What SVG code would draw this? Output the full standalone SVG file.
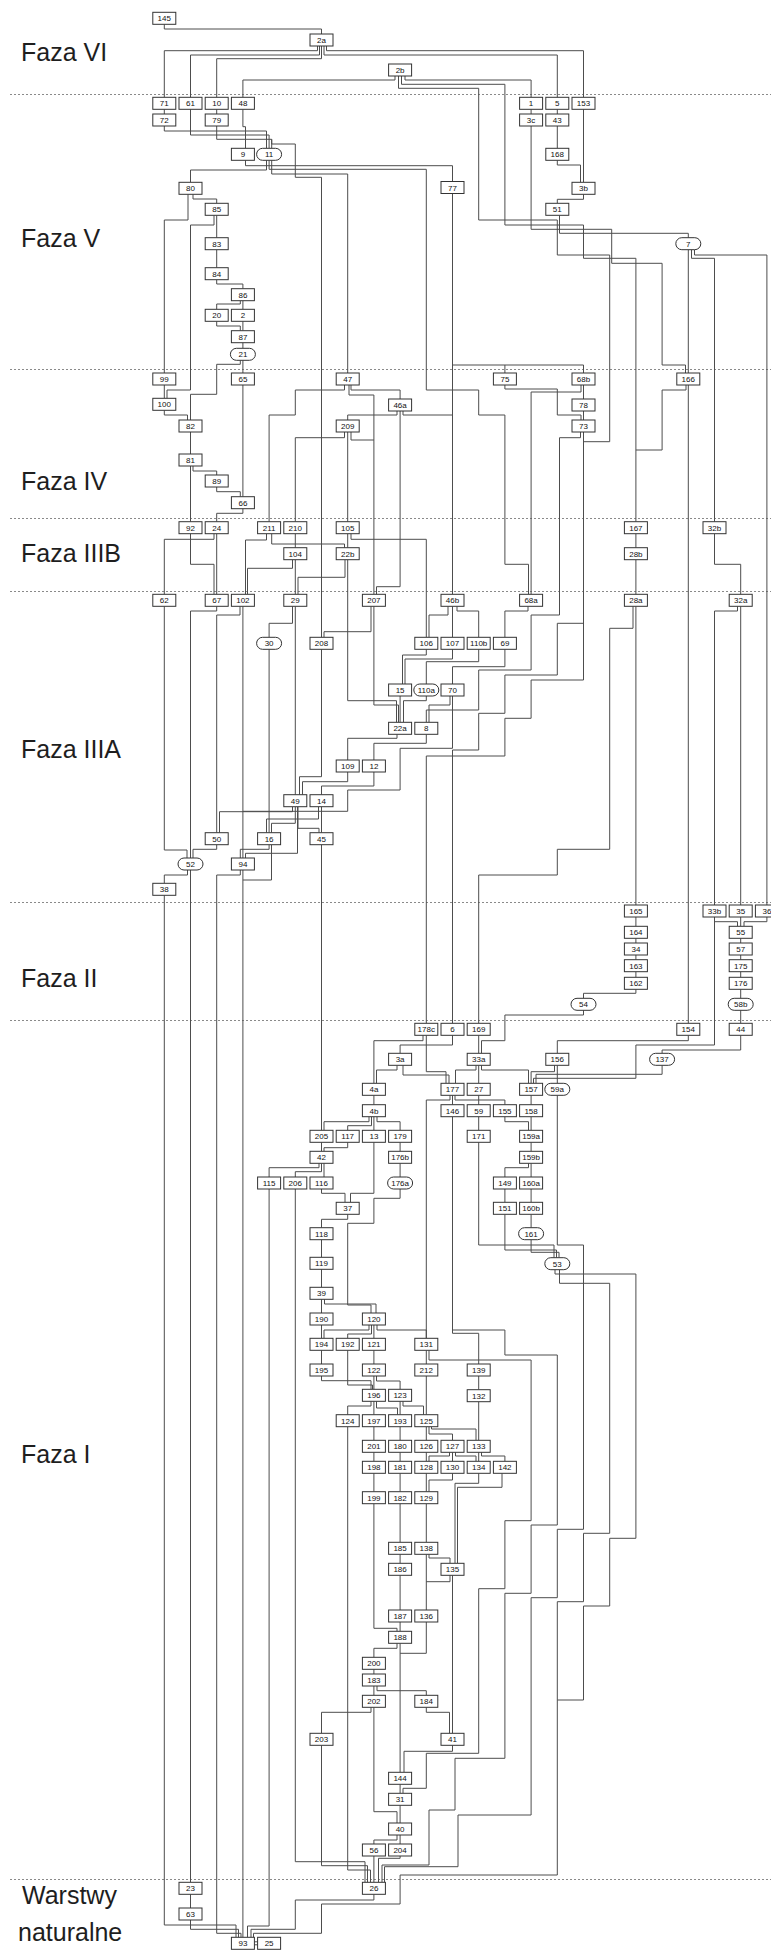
<svg xmlns="http://www.w3.org/2000/svg" width="771" height="1950" viewBox="0 0 771 1950">
<style>
.c path{fill:none;stroke:#4d4d4d;stroke-width:1}
.n rect{fill:#fff;stroke:#333;stroke-width:1}
.n text{font-family:"Liberation Sans",Arial,sans-serif;font-size:8px;fill:#111;text-anchor:middle}
.d line{stroke:#8a8a8a;stroke-width:1;stroke-dasharray:2 2}
.ph{font-family:"Liberation Sans",Arial,sans-serif;font-size:25px;fill:#1e1e1e}
</style>
<rect width="771" height="1950" fill="#fff"/>
<g id="phases" class="d">
<line x1="10" y1="94.5" x2="771" y2="94.5"/>
<line x1="10" y1="369.5" x2="771" y2="369.5"/>
<line x1="10" y1="518.5" x2="771" y2="518.5"/>
<line x1="10" y1="591.5" x2="771" y2="591.5"/>
<line x1="10" y1="902.5" x2="771" y2="902.5"/>
<line x1="10" y1="1020.5" x2="771" y2="1020.5"/>
<line x1="10" y1="1879.5" x2="771" y2="1879.5"/>
</g>
<g id="phase-labels">
<text class="ph" x="21" y="61">Faza VI</text>
<text class="ph" x="21" y="247">Faza V</text>
<text class="ph" x="21" y="490">Faza IV</text>
<text class="ph" x="21" y="562">Faza IIIB</text>
<text class="ph" x="21" y="758">Faza IIIA</text>
<text class="ph" x="21" y="987">Faza II</text>
<text class="ph" x="21" y="1463">Faza I</text>
<text class="ph" x="22" y="1904">Warstwy</text>
<text class="ph" x="18" y="1941">naturalne</text>
</g>
<g id="connectors" class="c">
<path d="M164.3,24.3V29H321.5V34"/>
<path d="M317.5,46V50.7H164.3V97.3"/>
<path d="M319.5,46V55H190.5V97.3"/>
<path d="M321.5,46V58.7H216.7V97.3"/>
<path d="M324,46V55H557.3V97.3"/>
<path d="M326.5,46V50.7H583.5V97.3"/>
<path d="M395,76V80H242.9V97.3"/>
<path d="M405,76V80H531.1V97.3"/>
<path d="M401.5,76V84.3H504.9V225H583.5V258.3H635.9V521.7"/>
<path d="M398.5,76V88.3H478.7V220H557.3V255H609.7V441.7H583.5V680H531.1V718.3H504.9V756H426.3V1023.3"/>
<path d="M164.3,109.3V114"/>
<path d="M216.7,109.3V114"/>
<path d="M531.1,109.3V114"/>
<path d="M557.3,109.3V114"/>
<path d="M164.3,126V131H266.5V148.3"/>
<path d="M190.5,109.3V135H269.1V148.3"/>
<path d="M216.7,126V139.3H271.7V148.3"/>
<path d="M242.9,109.3V126.7H245.5V148.3"/>
<path d="M271.7,139.3V144H295.3V177.3H321.5V637.3"/>
<path d="M557.3,126V148.3"/>
<path d="M583.5,109.3V182.3"/>
<path d="M557.3,160.3V165H580.5V182.3"/>
<path d="M583.5,194.3V199.3H557.3V203.3"/>
<path d="M531.1,126V229.3H611.7V263.3H662.1V365H685.5V373"/>
<path d="M559.5,215.3V233.3H688.3V237.7"/>
<path d="M688.3,249.7V373"/>
<path d="M691.5,249.7V258.3H714.5V521.7"/>
<path d="M694.5,249.7V255H766.9V905"/>
<path d="M245.5,160.3V165.7H452.5V181.5"/>
<path d="M266.5,160.3V170H190.5V182.3"/>
<path d="M271.7,160.3V174H347.7V373"/>
<path d="M269.1,160.3V169.3H426.3V390H478.7V415H504.9V564.3H528.5V594.3"/>
<path d="M193,194.3V199H216.7V203.3"/>
<path d="M188,194.3V220H164.3V373"/>
<path d="M216.7,215.3V237.7"/>
<path d="M214,215.3V225H190.5V390H167V398.3"/>
<path d="M216.7,249.7V267.7"/>
<path d="M216.7,279.7V284H242.9V288.7"/>
<path d="M240.3,300.7V304H216.7V309.3"/>
<path d="M242.9,300.7V309.3"/>
<path d="M216.7,321.3V326H240.3V330.7"/>
<path d="M242.9,321.3V330.7"/>
<path d="M242.9,342.7V348.3"/>
<path d="M242.9,360.3V373"/>
<path d="M240.3,360.3V364.3H216.7V394.3H190.5V420"/>
<path d="M164.3,385V398.3"/>
<path d="M164.3,410.3V415H187.5V420"/>
<path d="M190.5,432V454"/>
<path d="M193,466V471H216.7V475"/>
<path d="M190.5,466V521.7"/>
<path d="M216.7,487V491.7H240.3V496.7"/>
<path d="M242.9,385V496.7"/>
<path d="M242.9,508.7V513.3H216.7V521.7"/>
<path d="M452.5,193.5V594.3"/>
<path d="M452.5,365H583.5V373"/>
<path d="M504.9,365V373"/>
<path d="M504.9,385V389H557.3V415H581V420"/>
<path d="M583.5,385V399"/>
<path d="M583.5,411V420"/>
<path d="M581,385V392H531.1V594.3"/>
<path d="M686,385V390H662.1V450H635.9"/>
<path d="M688.3,385V1023.3"/>
<path d="M351,385V390H400.1V399"/>
<path d="M344.5,385V390H295.3V415H269.1V521.7"/>
<path d="M349,385V395H373.9V594.3"/>
<path d="M397,411V415H347.7V420"/>
<path d="M403,411V415H452.5"/>
<path d="M400.1,411V586.7H376.5V594.3"/>
<path d="M347.7,432V521.7"/>
<path d="M344.5,432V437.7H295.3V521.7"/>
<path d="M351,432V440H373.9"/>
<path d="M347.7,533.7V547.7"/>
<path d="M351,533.7V539.3H426.3V637.3"/>
<path d="M266.5,533.7V540H245.5V594.3"/>
<path d="M271.7,533.7V544H344.5V547.7"/>
<path d="M295.3,533.7V547.7"/>
<path d="M295.3,559.7V594.3"/>
<path d="M292.5,559.7V568.3H247.5V594.3"/>
<path d="M345,559.7V577.3H298V594.3"/>
<path d="M347.7,559.7V700.7H396.5V722.3"/>
<path d="M190.5,533.7V564.3H214V594.3"/>
<path d="M216.7,533.7V594.3"/>
<path d="M214,533.7V539.3H164.3V594.3"/>
<path d="M714.5,533.7V564.3H740.7V594.3"/>
<path d="M635.9,533.7V547.7"/>
<path d="M635.9,559.7V594.3"/>
<path d="M635.9,606.3V905"/>
<path d="M633,606.3V628.3H609.7V849.3H557.3V875H478.7V1023.3"/>
<path d="M740.7,606.3V905"/>
<path d="M737.5,606.3V611H714.5V905"/>
<path d="M448,606.3V615H429V637.3"/>
<path d="M452.5,606.3V637.3"/>
<path d="M457,606.3V611H478.7V637.3"/>
<path d="M528,606.3V611H504.9V637.3"/>
<path d="M583.5,432V623.3H557.3V675H504.9V713.3H478.7V750H452.5V1023.3"/>
<path d="M580.5,432V437.7H559.5V615H531.1V670H478.7V710H426.3V722.3"/>
<path d="M426.3,649.3V655H402.5V684"/>
<path d="M452.5,649.3V659H405V684"/>
<path d="M478.7,649.3V661.7H426.3V684"/>
<path d="M504.9,649.3V666.7H452.5V684"/>
<path d="M400.1,696V722.3"/>
<path d="M426.3,696V700.7H403.5V722.3"/>
<path d="M373.9,606.3V705H398.5V722.3"/>
<path d="M371,606.3V631.7H324V637.3"/>
<path d="M450,696V705H429V722.3"/>
<path d="M452.5,696V748.3H400.1V790H347.7V811.3H242.9"/>
<path d="M426.3,734.3V743.3H373.9V760"/>
<path d="M397,734.3V738.3H347.7V760"/>
<path d="M347.7,772V781.7H302.5V794.7"/>
<path d="M373.9,772V786H321.5V794.7"/>
<path d="M321.5,649.3V776.7H299.5V794.7"/>
<path d="M295.3,606.3V794.7"/>
<path d="M292.5,606.3V623.3H269.1V637.3"/>
<path d="M269.1,649.3V832.7"/>
<path d="M242.9,606.3V858"/>
<path d="M240,606.3V615H216.7V832.7"/>
<path d="M216.7,606.3V611H190.5V858"/>
<path d="M164.3,606.3V850H187V858"/>
<path d="M292.5,806.7V811.7H219.5V832.7"/>
<path d="M295.3,806.7V823.3H271.5V832.7"/>
<path d="M298,806.7V828.3H319V832.7"/>
<path d="M321.5,806.7V832.7"/>
<path d="M318.5,806.7V819H266.5V832.7"/>
<path d="M297.5,806.7V853.3H245.5V858"/>
<path d="M269.1,844.7V849.3H240.3V858"/>
<path d="M271.5,844.7V880H242.9"/>
<path d="M216.7,844.7V849.3H193V858"/>
<path d="M187.5,870V875H164.3V883.3"/>
<path d="M190.5,870V1882.3"/>
<path d="M240.3,870V875H216.7V1933.3H241V1937.3"/>
<path d="M242.9,870V1937.3"/>
<path d="M164.3,895.3V1925H236V1937.3"/>
<path d="M321.5,844.7V1130.3"/>
<path d="M635.9,917V926.3"/>
<path d="M635.9,938.3V943"/>
<path d="M635.9,955V959.7"/>
<path d="M635.9,971.7V977.3"/>
<path d="M635.9,989.3V993.3H583.5V998.3"/>
<path d="M583.5,1010.3V1015H504.9V1040.7H481.5V1053.3"/>
<path d="M714.5,917V921.7H737.5V926.3"/>
<path d="M740.7,917V926.3"/>
<path d="M766.9,917V921.7H744V926.3"/>
<path d="M740.7,938.3V943"/>
<path d="M740.7,955V959.7"/>
<path d="M740.7,971.7V977.3"/>
<path d="M740.7,989.3V998.3"/>
<path d="M740.7,1010.3V1023.3"/>
<path d="M714.5,917V1045H635.9V1078.3H533.5V1083.3"/>
<path d="M740.7,1035.3V1050H662.1V1053.3"/>
<path d="M688.3,1035.3V1040.7H557.3V1053.3"/>
<path d="M478.7,1035.3V1053.3"/>
<path d="M423,1035.3V1040.7H373.9V1083.3"/>
<path d="M426.3,1035.3V1071.7H446V1083.3"/>
<path d="M452.5,1035.3V1045H400.1V1053.3"/>
<path d="M397,1065.3V1070H376.5V1083.3"/>
<path d="M403,1065.3V1075H449V1083.3"/>
<path d="M476,1065.3V1070H455.5V1083.3"/>
<path d="M478.7,1065.3V1083.3"/>
<path d="M481.5,1065.3V1070H528.5V1083.3"/>
<path d="M554.5,1065.3V1071.7H531.1V1083.3"/>
<path d="M557.3,1065.3V1083.3"/>
<path d="M662.1,1065.3V1074.3H536V1083.3"/>
<path d="M373.9,1095.3V1104.7"/>
<path d="M452.5,1095.3V1104.7"/>
<path d="M455,1095.3V1100H504.9V1104.7"/>
<path d="M450,1095.3V1100H426.3V1338.3"/>
<path d="M478.7,1095.3V1104.7"/>
<path d="M531.1,1095.3V1104.7"/>
<path d="M504.9,1116.7V1121.7H528.5V1130.3"/>
<path d="M531.1,1116.7V1130.3"/>
<path d="M478.7,1116.7V1130.3"/>
<path d="M369,1116.7V1121.7H324V1130.3"/>
<path d="M371.5,1116.7V1125.7H347.7V1130.3"/>
<path d="M373.9,1116.7V1130.3"/>
<path d="M377,1116.7V1121.7H400.1V1130.3"/>
<path d="M321.5,1142.3V1151.3"/>
<path d="M347.7,1142.3V1147.7H324V1151.3"/>
<path d="M400.1,1142.3V1151.3"/>
<path d="M400.1,1163.3V1177"/>
<path d="M531.1,1142.3V1151.3"/>
<path d="M319,1163.3V1167.7H269.1V1177"/>
<path d="M321.5,1163.3V1171.7H295.3V1177"/>
<path d="M324,1163.3V1177"/>
<path d="M528.5,1163.3V1167.7H504.9V1177"/>
<path d="M531.1,1163.3V1177"/>
<path d="M321.5,1189V1193.3H345V1202.3"/>
<path d="M373.9,1142.3V1193.3H350.5V1202.3"/>
<path d="M400.1,1189V1198.3H373.9V1223.3H347.7V1305H371V1313"/>
<path d="M347.7,1214.3V1219.3H321.5V1227.7"/>
<path d="M504.9,1189V1202.3"/>
<path d="M531.1,1189V1202.3"/>
<path d="M531.1,1214.3V1227.7"/>
<path d="M321.5,1239.7V1257.3"/>
<path d="M321.5,1269.3V1287.3"/>
<path d="M478.7,1142.3V1245H554V1257.7"/>
<path d="M504.9,1214.3V1250H556.5V1257.7"/>
<path d="M531.1,1240V1252.3H559V1257.7"/>
<path d="M321.5,1299.3V1313"/>
<path d="M324.5,1299.3V1304H376V1313"/>
<path d="M555,1269.7V1274H635.9V1538.3H609.7V1606H583.5V1700H557.3"/>
<path d="M559.5,1269.7V1283.3H609.7V1533.3H583.5V1601.7H557.3V1875H400.1V1904H321.5V1933.3H253.5V1937.3"/>
<path d="M557.3,1095.3V1245H583.5V1529.3H557.3V1597.7H531.1V1815H458V1866.7H384.5V1882.3"/>
<path d="M452.5,1116.7V1330H504.9V1355H557.3V1525H531.1V1593.3H504.9V1758.3H455V1810H429V1865H382V1882.3"/>
<path d="M452.5,1330V1333.3H478.7V1364"/>
<path d="M429,1350.3V1360H531.1V1520.7H504.9V1588.7H478.7V1753.3H426.3V1788.3H403V1793.3"/>
<path d="M321.5,1325V1338.3"/>
<path d="M321.5,1350.3V1364"/>
<path d="M369,1325V1330H324V1338.3"/>
<path d="M371.5,1325V1334H347.7V1338.3"/>
<path d="M373.9,1325V1338.3"/>
<path d="M377,1325V1330H426.3V1338.3"/>
<path d="M373.9,1350.3V1364"/>
<path d="M426.3,1350.3V1364"/>
<path d="M478.7,1376V1389.7"/>
<path d="M478.7,1401.7V1440.3"/>
<path d="M321.5,1376V1380.7H371V1389.3"/>
<path d="M347.7,1350.3V1385H372.5V1389.3"/>
<path d="M373.9,1376V1389.3"/>
<path d="M376.5,1376V1381H400.1V1389.3"/>
<path d="M426.3,1376V1414.7"/>
<path d="M371,1401.3V1406H347.7V1414.7"/>
<path d="M373.9,1401.3V1414.7"/>
<path d="M376.5,1401.3V1408H397.5V1414.7"/>
<path d="M400.1,1401.3V1414.7"/>
<path d="M403,1401.3V1406H423.5V1414.7"/>
<path d="M426.3,1426.7V1440.3"/>
<path d="M429,1426.7V1434H452.5V1440.3"/>
<path d="M431.5,1426.7V1429H476V1440.3"/>
<path d="M373.9,1426.7V1440.3"/>
<path d="M400.1,1426.7V1440.3"/>
<path d="M373.9,1452.3V1461.3"/>
<path d="M400.1,1452.3V1461.3"/>
<path d="M426.3,1452.3V1461.3"/>
<path d="M452.5,1452.3V1461.3"/>
<path d="M449.5,1452.3V1456H429V1461.3"/>
<path d="M455.5,1452.3V1456H476V1461.3"/>
<path d="M478.7,1452.3V1461.3"/>
<path d="M481.5,1452.3V1456H504.9V1461.3"/>
<path d="M373.9,1473.3V1491.7"/>
<path d="M400.1,1473.3V1491.7"/>
<path d="M426.3,1473.3V1491.7"/>
<path d="M452.5,1473.3V1480H429V1491.7"/>
<path d="M478.7,1473.3V1483.3H455V1563.3"/>
<path d="M502,1473.3V1487.3H457.5V1563.3"/>
<path d="M400.1,1503.7V1542.3"/>
<path d="M426.3,1503.7V1542.3"/>
<path d="M400.1,1554.3V1563.3"/>
<path d="M400.1,1575.3V1610"/>
<path d="M426.3,1554.3V1610"/>
<path d="M429,1554.3V1558H450V1563.3"/>
<path d="M450,1575.3V1581.7H426.3"/>
<path d="M452.5,1575.3V1733.3"/>
<path d="M452.5,1745.3V1751.3H404V1772.3"/>
<path d="M426.3,1622V1653.3H400.1"/>
<path d="M400.1,1622V1631.3"/>
<path d="M400.1,1643.3V1772.3"/>
<path d="M397,1643.3V1648.3H373.9V1657.3"/>
<path d="M373.9,1503.7V1628.3H397V1631.3"/>
<path d="M373.9,1669.3V1674"/>
<path d="M373.9,1686V1695.3"/>
<path d="M377,1686V1690.7H426.3V1695.3"/>
<path d="M371,1707.3V1712.3H321.5V1733.3"/>
<path d="M373.9,1707.3V1811.7H397V1823"/>
<path d="M426.3,1707.3V1712.3H449.5V1733.3"/>
<path d="M400.1,1784.3V1793.3"/>
<path d="M400.1,1805.3V1823"/>
<path d="M397,1835V1840H373.9V1844"/>
<path d="M400.1,1835V1844"/>
<path d="M373.9,1856V1882.3"/>
<path d="M400.1,1856V1858.3H378.5V1882.3"/>
<path d="M321.5,1745.3V1865.7H367.5V1882.3"/>
<path d="M295.3,1189V1861.7H365V1882.3"/>
<path d="M347.7,1426.7V1870H370.5V1882.3"/>
<path d="M373.9,1894.3V1900H295.3V1929.3H251V1937.3"/>
<path d="M190.5,1894.3V1908"/>
<path d="M190.5,1920V1929.3H238.5V1937.3"/>
<path d="M269.1,1189V1926H247.5V1937.3"/>
<path d="M254.4,1941.8H257.6M254.4,1944.8H257.6"/>
</g>
<g id="nodes" class="n">
<g id="n145"><rect x="152.8" y="12.3" width="23" height="12"/><text x="164.3" y="21.3">145</text></g>
<g id="n2a"><rect x="310" y="34" width="23" height="12"/><text x="321.5" y="43">2a</text></g>
<g id="n2b"><rect x="388.6" y="64" width="23" height="12"/><text x="400.1" y="73">2b</text></g>
<g id="n71"><rect x="152.8" y="97.3" width="23" height="12"/><text x="164.3" y="106.3">71</text></g>
<g id="n61"><rect x="179" y="97.3" width="23" height="12"/><text x="190.5" y="106.3">61</text></g>
<g id="n10"><rect x="205.2" y="97.3" width="23" height="12"/><text x="216.7" y="106.3">10</text></g>
<g id="n48"><rect x="231.4" y="97.3" width="23" height="12"/><text x="242.9" y="106.3">48</text></g>
<g id="n1"><rect x="519.6" y="97.3" width="23" height="12"/><text x="531.1" y="106.3">1</text></g>
<g id="n5"><rect x="545.8" y="97.3" width="23" height="12"/><text x="557.3" y="106.3">5</text></g>
<g id="n153"><rect x="572" y="97.3" width="23" height="12"/><text x="583.5" y="106.3">153</text></g>
<g id="n72"><rect x="152.8" y="114" width="23" height="12"/><text x="164.3" y="123">72</text></g>
<g id="n79"><rect x="205.2" y="114" width="23" height="12"/><text x="216.7" y="123">79</text></g>
<g id="n3c"><rect x="519.6" y="114" width="23" height="12"/><text x="531.1" y="123">3c</text></g>
<g id="n43"><rect x="545.8" y="114" width="23" height="12"/><text x="557.3" y="123">43</text></g>
<g id="n9"><rect x="231.4" y="148.3" width="23" height="12"/><text x="242.9" y="157.3">9</text></g>
<g id="n11"><rect x="256.6" y="148.3" width="25" height="12" rx="6"/><text x="269.1" y="157.3">11</text></g>
<g id="n168"><rect x="545.8" y="148.3" width="23" height="12"/><text x="557.3" y="157.3">168</text></g>
<g id="n80"><rect x="179" y="182.3" width="23" height="12"/><text x="190.5" y="191.3">80</text></g>
<g id="n77"><rect x="441" y="181.5" width="23" height="12"/><text x="452.5" y="190.5">77</text></g>
<g id="n3b"><rect x="572" y="182.3" width="23" height="12"/><text x="583.5" y="191.3">3b</text></g>
<g id="n85"><rect x="205.2" y="203.3" width="23" height="12"/><text x="216.7" y="212.3">85</text></g>
<g id="n51"><rect x="545.8" y="203.3" width="23" height="12"/><text x="557.3" y="212.3">51</text></g>
<g id="n83"><rect x="205.2" y="237.7" width="23" height="12"/><text x="216.7" y="246.7">83</text></g>
<g id="n7"><rect x="675.8" y="237.7" width="25" height="12" rx="6"/><text x="688.3" y="246.7">7</text></g>
<g id="n84"><rect x="205.2" y="267.7" width="23" height="12"/><text x="216.7" y="276.7">84</text></g>
<g id="n86"><rect x="231.4" y="288.7" width="23" height="12"/><text x="242.9" y="297.7">86</text></g>
<g id="n20"><rect x="205.2" y="309.3" width="23" height="12"/><text x="216.7" y="318.3">20</text></g>
<g id="n2"><rect x="231.4" y="309.3" width="23" height="12"/><text x="242.9" y="318.3">2</text></g>
<g id="n87"><rect x="231.4" y="330.7" width="23" height="12"/><text x="242.9" y="339.7">87</text></g>
<g id="n21"><rect x="230.4" y="348.3" width="25" height="12" rx="6"/><text x="242.9" y="357.3">21</text></g>
<g id="n99"><rect x="152.8" y="373" width="23" height="12"/><text x="164.3" y="382">99</text></g>
<g id="n65"><rect x="231.4" y="373" width="23" height="12"/><text x="242.9" y="382">65</text></g>
<g id="n47"><rect x="336.2" y="373" width="23" height="12"/><text x="347.7" y="382">47</text></g>
<g id="n75"><rect x="493.4" y="373" width="23" height="12"/><text x="504.9" y="382">75</text></g>
<g id="n68b"><rect x="572" y="373" width="23" height="12"/><text x="583.5" y="382">68b</text></g>
<g id="n166"><rect x="676.8" y="373" width="23" height="12"/><text x="688.3" y="382">166</text></g>
<g id="n100"><rect x="152.8" y="398.3" width="23" height="12"/><text x="164.3" y="407.3">100</text></g>
<g id="n46a"><rect x="388.6" y="399" width="23" height="12"/><text x="400.1" y="408">46a</text></g>
<g id="n78"><rect x="572" y="399" width="23" height="12"/><text x="583.5" y="408">78</text></g>
<g id="n82"><rect x="179" y="420" width="23" height="12"/><text x="190.5" y="429">82</text></g>
<g id="n209"><rect x="336.2" y="420" width="23" height="12"/><text x="347.7" y="429">209</text></g>
<g id="n73"><rect x="572" y="420" width="23" height="12"/><text x="583.5" y="429">73</text></g>
<g id="n81"><rect x="179" y="454" width="23" height="12"/><text x="190.5" y="463">81</text></g>
<g id="n89"><rect x="205.2" y="475" width="23" height="12"/><text x="216.7" y="484">89</text></g>
<g id="n66"><rect x="231.4" y="496.7" width="23" height="12"/><text x="242.9" y="505.7">66</text></g>
<g id="n92"><rect x="179" y="521.7" width="23" height="12"/><text x="190.5" y="530.7">92</text></g>
<g id="n24"><rect x="205.2" y="521.7" width="23" height="12"/><text x="216.7" y="530.7">24</text></g>
<g id="n211"><rect x="257.6" y="521.7" width="23" height="12"/><text x="269.1" y="530.7">211</text></g>
<g id="n210"><rect x="283.8" y="521.7" width="23" height="12"/><text x="295.3" y="530.7">210</text></g>
<g id="n105"><rect x="336.2" y="521.7" width="23" height="12"/><text x="347.7" y="530.7">105</text></g>
<g id="n167"><rect x="624.4" y="521.7" width="23" height="12"/><text x="635.9" y="530.7">167</text></g>
<g id="n32b"><rect x="703" y="521.7" width="23" height="12"/><text x="714.5" y="530.7">32b</text></g>
<g id="n104"><rect x="283.8" y="547.7" width="23" height="12"/><text x="295.3" y="556.7">104</text></g>
<g id="n22b"><rect x="336.2" y="547.7" width="23" height="12"/><text x="347.7" y="556.7">22b</text></g>
<g id="n28b"><rect x="624.4" y="547.7" width="23" height="12"/><text x="635.9" y="556.7">28b</text></g>
<g id="n62"><rect x="152.8" y="594.3" width="23" height="12"/><text x="164.3" y="603.3">62</text></g>
<g id="n67"><rect x="205.2" y="594.3" width="23" height="12"/><text x="216.7" y="603.3">67</text></g>
<g id="n102"><rect x="231.4" y="594.3" width="23" height="12"/><text x="242.9" y="603.3">102</text></g>
<g id="n29"><rect x="283.8" y="594.3" width="23" height="12"/><text x="295.3" y="603.3">29</text></g>
<g id="n207"><rect x="362.4" y="594.3" width="23" height="12"/><text x="373.9" y="603.3">207</text></g>
<g id="n46b"><rect x="441" y="594.3" width="23" height="12"/><text x="452.5" y="603.3">46b</text></g>
<g id="n68a"><rect x="519.6" y="594.3" width="23" height="12"/><text x="531.1" y="603.3">68a</text></g>
<g id="n28a"><rect x="624.4" y="594.3" width="23" height="12"/><text x="635.9" y="603.3">28a</text></g>
<g id="n32a"><rect x="729.2" y="594.3" width="23" height="12"/><text x="740.7" y="603.3">32a</text></g>
<g id="n30"><rect x="256.6" y="637.3" width="25" height="12" rx="6"/><text x="269.1" y="646.3">30</text></g>
<g id="n208"><rect x="310" y="637.3" width="23" height="12"/><text x="321.5" y="646.3">208</text></g>
<g id="n106"><rect x="414.8" y="637.3" width="23" height="12"/><text x="426.3" y="646.3">106</text></g>
<g id="n107"><rect x="441" y="637.3" width="23" height="12"/><text x="452.5" y="646.3">107</text></g>
<g id="n110b"><rect x="467.2" y="637.3" width="23" height="12"/><text x="478.7" y="646.3">110b</text></g>
<g id="n69"><rect x="493.4" y="637.3" width="23" height="12"/><text x="504.9" y="646.3">69</text></g>
<g id="n15"><rect x="388.6" y="684" width="23" height="12"/><text x="400.1" y="693">15</text></g>
<g id="n110a"><rect x="413.8" y="684" width="25" height="12" rx="6"/><text x="426.3" y="693">110a</text></g>
<g id="n70"><rect x="441" y="684" width="23" height="12"/><text x="452.5" y="693">70</text></g>
<g id="n22a"><rect x="388.6" y="722.3" width="23" height="12"/><text x="400.1" y="731.3">22a</text></g>
<g id="n8"><rect x="414.8" y="722.3" width="23" height="12"/><text x="426.3" y="731.3">8</text></g>
<g id="n109"><rect x="336.2" y="760" width="23" height="12"/><text x="347.7" y="769">109</text></g>
<g id="n12"><rect x="362.4" y="760" width="23" height="12"/><text x="373.9" y="769">12</text></g>
<g id="n49"><rect x="283.8" y="794.7" width="23" height="12"/><text x="295.3" y="803.7">49</text></g>
<g id="n14"><rect x="310" y="794.7" width="23" height="12"/><text x="321.5" y="803.7">14</text></g>
<g id="n50"><rect x="205.2" y="832.7" width="23" height="12"/><text x="216.7" y="841.7">50</text></g>
<g id="n16"><rect x="257.6" y="832.7" width="23" height="12"/><text x="269.1" y="841.7">16</text></g>
<g id="n45"><rect x="310" y="832.7" width="23" height="12"/><text x="321.5" y="841.7">45</text></g>
<g id="n52"><rect x="178" y="858" width="25" height="12" rx="6"/><text x="190.5" y="867">52</text></g>
<g id="n94"><rect x="231.4" y="858" width="23" height="12"/><text x="242.9" y="867">94</text></g>
<g id="n38"><rect x="152.8" y="883.3" width="23" height="12"/><text x="164.3" y="892.3">38</text></g>
<g id="n165"><rect x="624.4" y="905" width="23" height="12"/><text x="635.9" y="914">165</text></g>
<g id="n33b"><rect x="703" y="905" width="23" height="12"/><text x="714.5" y="914">33b</text></g>
<g id="n35"><rect x="729.2" y="905" width="23" height="12"/><text x="740.7" y="914">35</text></g>
<g id="n36"><rect x="755.4" y="905" width="23" height="12"/><text x="766.9" y="914">36</text></g>
<g id="n164"><rect x="624.4" y="926.3" width="23" height="12"/><text x="635.9" y="935.3">164</text></g>
<g id="n55"><rect x="729.2" y="926.3" width="23" height="12"/><text x="740.7" y="935.3">55</text></g>
<g id="n34"><rect x="624.4" y="943" width="23" height="12"/><text x="635.9" y="952">34</text></g>
<g id="n57"><rect x="729.2" y="943" width="23" height="12"/><text x="740.7" y="952">57</text></g>
<g id="n163"><rect x="624.4" y="959.7" width="23" height="12"/><text x="635.9" y="968.7">163</text></g>
<g id="n175"><rect x="729.2" y="959.7" width="23" height="12"/><text x="740.7" y="968.7">175</text></g>
<g id="n162"><rect x="624.4" y="977.3" width="23" height="12"/><text x="635.9" y="986.3">162</text></g>
<g id="n176"><rect x="729.2" y="977.3" width="23" height="12"/><text x="740.7" y="986.3">176</text></g>
<g id="n54"><rect x="571" y="998.3" width="25" height="12" rx="6"/><text x="583.5" y="1007.3">54</text></g>
<g id="n58b"><rect x="728.2" y="998.3" width="25" height="12" rx="6"/><text x="740.7" y="1007.3">58b</text></g>
<g id="n178c"><rect x="414.8" y="1023.3" width="23" height="12"/><text x="426.3" y="1032.3">178c</text></g>
<g id="n6"><rect x="441" y="1023.3" width="23" height="12"/><text x="452.5" y="1032.3">6</text></g>
<g id="n169"><rect x="467.2" y="1023.3" width="23" height="12"/><text x="478.7" y="1032.3">169</text></g>
<g id="n154"><rect x="676.8" y="1023.3" width="23" height="12"/><text x="688.3" y="1032.3">154</text></g>
<g id="n44"><rect x="729.2" y="1023.3" width="23" height="12"/><text x="740.7" y="1032.3">44</text></g>
<g id="n3a"><rect x="388.6" y="1053.3" width="23" height="12"/><text x="400.1" y="1062.3">3a</text></g>
<g id="n33a"><rect x="467.2" y="1053.3" width="23" height="12"/><text x="478.7" y="1062.3">33a</text></g>
<g id="n156"><rect x="545.8" y="1053.3" width="23" height="12"/><text x="557.3" y="1062.3">156</text></g>
<g id="n137"><rect x="649.6" y="1053.3" width="25" height="12" rx="6"/><text x="662.1" y="1062.3">137</text></g>
<g id="n4a"><rect x="362.4" y="1083.3" width="23" height="12"/><text x="373.9" y="1092.3">4a</text></g>
<g id="n177"><rect x="441" y="1083.3" width="23" height="12"/><text x="452.5" y="1092.3">177</text></g>
<g id="n27"><rect x="467.2" y="1083.3" width="23" height="12"/><text x="478.7" y="1092.3">27</text></g>
<g id="n157"><rect x="519.6" y="1083.3" width="23" height="12"/><text x="531.1" y="1092.3">157</text></g>
<g id="n59a"><rect x="544.8" y="1083.3" width="25" height="12" rx="6"/><text x="557.3" y="1092.3">59a</text></g>
<g id="n4b"><rect x="362.4" y="1104.7" width="23" height="12"/><text x="373.9" y="1113.7">4b</text></g>
<g id="n146"><rect x="441" y="1104.7" width="23" height="12"/><text x="452.5" y="1113.7">146</text></g>
<g id="n59"><rect x="467.2" y="1104.7" width="23" height="12"/><text x="478.7" y="1113.7">59</text></g>
<g id="n155"><rect x="493.4" y="1104.7" width="23" height="12"/><text x="504.9" y="1113.7">155</text></g>
<g id="n158"><rect x="519.6" y="1104.7" width="23" height="12"/><text x="531.1" y="1113.7">158</text></g>
<g id="n205"><rect x="310" y="1130.3" width="23" height="12"/><text x="321.5" y="1139.3">205</text></g>
<g id="n117"><rect x="336.2" y="1130.3" width="23" height="12"/><text x="347.7" y="1139.3">117</text></g>
<g id="n13"><rect x="362.4" y="1130.3" width="23" height="12"/><text x="373.9" y="1139.3">13</text></g>
<g id="n179"><rect x="388.6" y="1130.3" width="23" height="12"/><text x="400.1" y="1139.3">179</text></g>
<g id="n171"><rect x="467.2" y="1130.3" width="23" height="12"/><text x="478.7" y="1139.3">171</text></g>
<g id="n159a"><rect x="519.6" y="1130.3" width="23" height="12"/><text x="531.1" y="1139.3">159a</text></g>
<g id="n42"><rect x="310" y="1151.3" width="23" height="12"/><text x="321.5" y="1160.3">42</text></g>
<g id="n176b"><rect x="388.6" y="1151.3" width="23" height="12"/><text x="400.1" y="1160.3">176b</text></g>
<g id="n159b"><rect x="519.6" y="1151.3" width="23" height="12"/><text x="531.1" y="1160.3">159b</text></g>
<g id="n115"><rect x="257.6" y="1177" width="23" height="12"/><text x="269.1" y="1186">115</text></g>
<g id="n206"><rect x="283.8" y="1177" width="23" height="12"/><text x="295.3" y="1186">206</text></g>
<g id="n116"><rect x="310" y="1177" width="23" height="12"/><text x="321.5" y="1186">116</text></g>
<g id="n176a"><rect x="387.6" y="1177" width="25" height="12" rx="6"/><text x="400.1" y="1186">176a</text></g>
<g id="n149"><rect x="493.4" y="1177" width="23" height="12"/><text x="504.9" y="1186">149</text></g>
<g id="n160a"><rect x="519.6" y="1177" width="23" height="12"/><text x="531.1" y="1186">160a</text></g>
<g id="n37"><rect x="336.2" y="1202.3" width="23" height="12"/><text x="347.7" y="1211.3">37</text></g>
<g id="n151"><rect x="493.4" y="1202.3" width="23" height="12"/><text x="504.9" y="1211.3">151</text></g>
<g id="n160b"><rect x="519.6" y="1202.3" width="23" height="12"/><text x="531.1" y="1211.3">160b</text></g>
<g id="n118"><rect x="310" y="1227.7" width="23" height="12"/><text x="321.5" y="1236.7">118</text></g>
<g id="n161"><rect x="518.6" y="1227.7" width="25" height="12" rx="6"/><text x="531.1" y="1236.7">161</text></g>
<g id="n119"><rect x="310" y="1257.3" width="23" height="12"/><text x="321.5" y="1266.3">119</text></g>
<g id="n53"><rect x="544.8" y="1257.7" width="25" height="12" rx="6"/><text x="557.3" y="1266.7">53</text></g>
<g id="n39"><rect x="310" y="1287.3" width="23" height="12"/><text x="321.5" y="1296.3">39</text></g>
<g id="n190"><rect x="310" y="1313" width="23" height="12"/><text x="321.5" y="1322">190</text></g>
<g id="n120"><rect x="362.4" y="1313" width="23" height="12"/><text x="373.9" y="1322">120</text></g>
<g id="n194"><rect x="310" y="1338.3" width="23" height="12"/><text x="321.5" y="1347.3">194</text></g>
<g id="n192"><rect x="336.2" y="1338.3" width="23" height="12"/><text x="347.7" y="1347.3">192</text></g>
<g id="n121"><rect x="362.4" y="1338.3" width="23" height="12"/><text x="373.9" y="1347.3">121</text></g>
<g id="n131"><rect x="414.8" y="1338.3" width="23" height="12"/><text x="426.3" y="1347.3">131</text></g>
<g id="n195"><rect x="310" y="1364" width="23" height="12"/><text x="321.5" y="1373">195</text></g>
<g id="n122"><rect x="362.4" y="1364" width="23" height="12"/><text x="373.9" y="1373">122</text></g>
<g id="n212"><rect x="414.8" y="1364" width="23" height="12"/><text x="426.3" y="1373">212</text></g>
<g id="n139"><rect x="467.2" y="1364" width="23" height="12"/><text x="478.7" y="1373">139</text></g>
<g id="n196"><rect x="362.4" y="1389.3" width="23" height="12"/><text x="373.9" y="1398.3">196</text></g>
<g id="n123"><rect x="388.6" y="1389.3" width="23" height="12"/><text x="400.1" y="1398.3">123</text></g>
<g id="n132"><rect x="467.2" y="1389.7" width="23" height="12"/><text x="478.7" y="1398.7">132</text></g>
<g id="n124"><rect x="336.2" y="1414.7" width="23" height="12"/><text x="347.7" y="1423.7">124</text></g>
<g id="n197"><rect x="362.4" y="1414.7" width="23" height="12"/><text x="373.9" y="1423.7">197</text></g>
<g id="n193"><rect x="388.6" y="1414.7" width="23" height="12"/><text x="400.1" y="1423.7">193</text></g>
<g id="n125"><rect x="414.8" y="1414.7" width="23" height="12"/><text x="426.3" y="1423.7">125</text></g>
<g id="n201"><rect x="362.4" y="1440.3" width="23" height="12"/><text x="373.9" y="1449.3">201</text></g>
<g id="n180"><rect x="388.6" y="1440.3" width="23" height="12"/><text x="400.1" y="1449.3">180</text></g>
<g id="n126"><rect x="414.8" y="1440.3" width="23" height="12"/><text x="426.3" y="1449.3">126</text></g>
<g id="n127"><rect x="441" y="1440.3" width="23" height="12"/><text x="452.5" y="1449.3">127</text></g>
<g id="n133"><rect x="467.2" y="1440.3" width="23" height="12"/><text x="478.7" y="1449.3">133</text></g>
<g id="n198"><rect x="362.4" y="1461.3" width="23" height="12"/><text x="373.9" y="1470.3">198</text></g>
<g id="n181"><rect x="388.6" y="1461.3" width="23" height="12"/><text x="400.1" y="1470.3">181</text></g>
<g id="n128"><rect x="414.8" y="1461.3" width="23" height="12"/><text x="426.3" y="1470.3">128</text></g>
<g id="n130"><rect x="441" y="1461.3" width="23" height="12"/><text x="452.5" y="1470.3">130</text></g>
<g id="n134"><rect x="467.2" y="1461.3" width="23" height="12"/><text x="478.7" y="1470.3">134</text></g>
<g id="n142"><rect x="493.4" y="1461.3" width="23" height="12"/><text x="504.9" y="1470.3">142</text></g>
<g id="n199"><rect x="362.4" y="1491.7" width="23" height="12"/><text x="373.9" y="1500.7">199</text></g>
<g id="n182"><rect x="388.6" y="1491.7" width="23" height="12"/><text x="400.1" y="1500.7">182</text></g>
<g id="n129"><rect x="414.8" y="1491.7" width="23" height="12"/><text x="426.3" y="1500.7">129</text></g>
<g id="n185"><rect x="388.6" y="1542.3" width="23" height="12"/><text x="400.1" y="1551.3">185</text></g>
<g id="n138"><rect x="414.8" y="1542.3" width="23" height="12"/><text x="426.3" y="1551.3">138</text></g>
<g id="n186"><rect x="388.6" y="1563.3" width="23" height="12"/><text x="400.1" y="1572.3">186</text></g>
<g id="n135"><rect x="441" y="1563.3" width="23" height="12"/><text x="452.5" y="1572.3">135</text></g>
<g id="n187"><rect x="388.6" y="1610" width="23" height="12"/><text x="400.1" y="1619">187</text></g>
<g id="n136"><rect x="414.8" y="1610" width="23" height="12"/><text x="426.3" y="1619">136</text></g>
<g id="n188"><rect x="388.6" y="1631.3" width="23" height="12"/><text x="400.1" y="1640.3">188</text></g>
<g id="n200"><rect x="362.4" y="1657.3" width="23" height="12"/><text x="373.9" y="1666.3">200</text></g>
<g id="n183"><rect x="362.4" y="1674" width="23" height="12"/><text x="373.9" y="1683">183</text></g>
<g id="n202"><rect x="362.4" y="1695.3" width="23" height="12"/><text x="373.9" y="1704.3">202</text></g>
<g id="n184"><rect x="414.8" y="1695.3" width="23" height="12"/><text x="426.3" y="1704.3">184</text></g>
<g id="n203"><rect x="310" y="1733.3" width="23" height="12"/><text x="321.5" y="1742.3">203</text></g>
<g id="n41"><rect x="441" y="1733.3" width="23" height="12"/><text x="452.5" y="1742.3">41</text></g>
<g id="n144"><rect x="388.6" y="1772.3" width="23" height="12"/><text x="400.1" y="1781.3">144</text></g>
<g id="n31"><rect x="388.6" y="1793.3" width="23" height="12"/><text x="400.1" y="1802.3">31</text></g>
<g id="n40"><rect x="388.6" y="1823" width="23" height="12"/><text x="400.1" y="1832">40</text></g>
<g id="n56"><rect x="362.4" y="1844" width="23" height="12"/><text x="373.9" y="1853">56</text></g>
<g id="n204"><rect x="388.6" y="1844" width="23" height="12"/><text x="400.1" y="1853">204</text></g>
<g id="n26"><rect x="362.4" y="1882.3" width="23" height="12"/><text x="373.9" y="1891.3">26</text></g>
<g id="n23"><rect x="179" y="1882.3" width="23" height="12"/><text x="190.5" y="1891.3">23</text></g>
<g id="n63"><rect x="179" y="1908" width="23" height="12"/><text x="190.5" y="1917">63</text></g>
<g id="n93"><rect x="231.4" y="1937.3" width="23" height="12"/><text x="242.9" y="1946.3">93</text></g>
<g id="n25"><rect x="257.6" y="1937.3" width="23" height="12"/><text x="269.1" y="1946.3">25</text></g>
</g>
</svg>
